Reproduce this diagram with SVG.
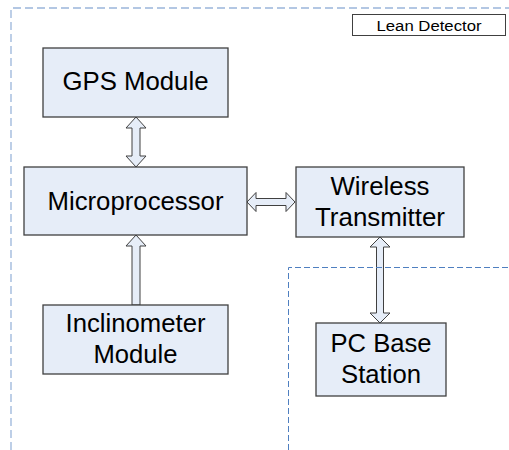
<svg xmlns="http://www.w3.org/2000/svg" width="509" height="450" viewBox="0 0 509 450">
  <style>
    .box { fill: #e6edf8; stroke: #404040; stroke-width: 1.3; }
    .lbl { font-family: "Liberation Sans", Arial, sans-serif; font-size: 25px; fill: #000; text-anchor: middle; }
    .tag { font-family: "Liberation Sans", Arial, sans-serif; font-size: 15.5px; fill: #000; text-anchor: middle; }
    .arrow { fill: #e6edf8; stroke: #404040; stroke-width: 1; stroke-linejoin: miter; }
    .outer { fill: none; stroke: #9ab5da; stroke-width: 1.3; stroke-dasharray: 8 4; }
    .inner { fill: none; stroke: #4f7fc0; stroke-width: 1; stroke-dasharray: 6 3; }
  </style>
  <rect width="509" height="450" fill="#ffffff"/>

  <!-- system boundaries -->
  <g id="boundaries">
    <polyline class="outer" points="11,450 11,8 509,8"/>
  </g>

  <!-- title tag -->
  <g id="lean-detector">
    <rect x="352.5" y="14.5" width="153" height="21" fill="#ffffff" stroke="#404040" stroke-width="1"/>
    <text class="tag" x="429" y="30.5" textLength="105" lengthAdjust="spacingAndGlyphs">Lean Detector</text>
  </g>

  <!-- connectors -->
  <g id="connectors">
    <polygon class="arrow" points="136,117 146,128 140,128 140,156 146,156 136,167 126,156 132,156 132,128 126,128"/>
    <polygon class="arrow" points="247,202 256,192.5 256,198.5 286,198.5 286,192.5 295,202 286,211.5 286,205.5 256,205.5 256,211.5"/>
    <polygon class="arrow" points="136,235 146,246 140,246 140,305 132,305 132,246 126,246"/>
    <polygon class="arrow" points="380,237 390,247 383.5,247 383.5,313 390,313 380,323 370,313 376.5,313 376.5,247 370,247"/>
  </g>

  <g id="base-boundary">
    <polyline class="inner" points="288.5,450 288.5,267.5 509,267.5"/>
  </g>

  <!-- nodes -->
  <g id="gps">
    <rect class="box" x="43" y="48" width="185" height="69"/>
    <text class="lbl" x="135.5" y="89.5" textLength="146" lengthAdjust="spacingAndGlyphs">GPS Module</text>
  </g>
  <g id="microprocessor">
    <rect class="box" x="24" y="167" width="223" height="68"/>
    <text class="lbl" x="135.5" y="209.5" textLength="176" lengthAdjust="spacingAndGlyphs">Microprocessor</text>
  </g>
  <g id="wireless">
    <rect class="box" x="296" y="167" width="168" height="70"/>
    <text class="lbl" x="380" y="195" textLength="99" lengthAdjust="spacingAndGlyphs">Wireless</text>
    <text class="lbl" x="380" y="226" textLength="130" lengthAdjust="spacingAndGlyphs">Transmitter</text>
  </g>
  <g id="inclinometer">
    <rect class="box" x="43" y="305" width="185" height="69"/>
    <text class="lbl" x="135.5" y="332" textLength="140" lengthAdjust="spacingAndGlyphs">Inclinometer</text>
    <text class="lbl" x="135.5" y="363" textLength="84" lengthAdjust="spacingAndGlyphs">Module</text>
  </g>
  <g id="pc-base">
    <rect class="box" x="316" y="323" width="130" height="73"/>
    <text class="lbl" x="381" y="352" textLength="101" lengthAdjust="spacingAndGlyphs">PC Base</text>
    <text class="lbl" x="381" y="383" textLength="80" lengthAdjust="spacingAndGlyphs">Station</text>
  </g>
</svg>
